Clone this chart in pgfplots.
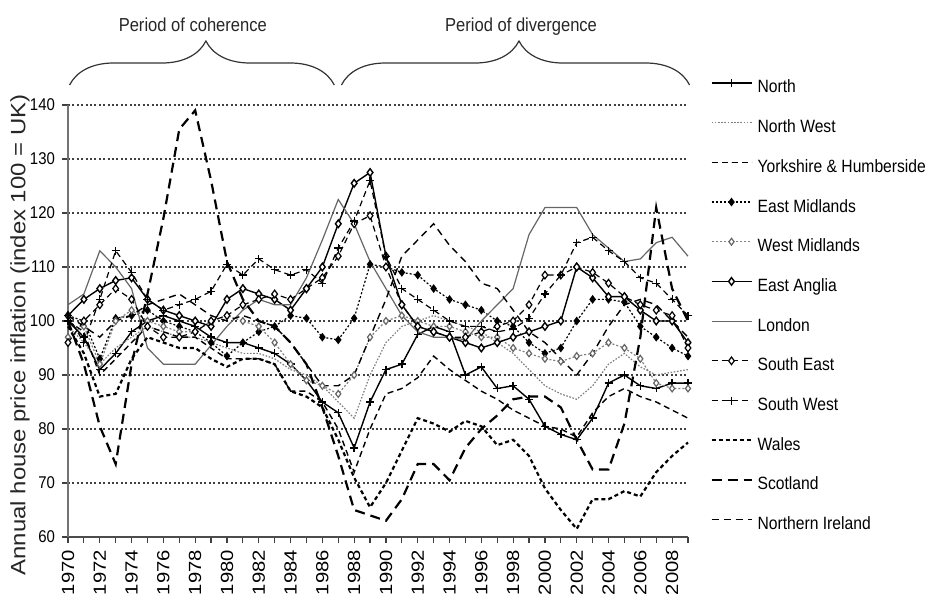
\documentclass[border=0pt]{standalone}
\usepackage{fontspec}
\setmainfont{Liberation Sans}
\newfontfamily\hfont[FakeStretch=0.88]{Liberation Sans}
\newfontfamily\vfont[FakeStretch=1.15]{Liberation Sans}
\usepackage{pgfplots}
\pgfplotsset{compat=1.18}
\usepackage{pgfplotstable}
\usetikzlibrary{decorations.pathreplacing}

\pgfplotstableread{
year N NW YH EM WM EA LON SE SW WAL SCO NI
1970 100 99 100 101 97 101 103 96 101 99 100 101
1971 97 96 98 100 99 104 105 100 96 94 92 99
1972 91 92 90 93 92 106 113 103 104 86 80.5 97
1973 94 95 93 100.5 100 107.5 110 106 113 86.5 73.5 100
1974 98 97 96 101 102 108 106 104 109 93 92 101
1975 100 99 99 102 100 104 95 99 104 97 105 103
1976 101 98 98 100 99 102 92 97 102 96 119 104
1977 100 97 97 99 98 101 92 97 103 95 135.5 105
1978 99 97 97 98 98 100 92 98 104 95 139 103
1979 97 96 95 96 100 99 95.5 100 105.5 93 126 101
1980 96 95 93 93.5 101 104 99 101 110.5 91.5 111 100
1981 96 94 93 96 100 106 102 103 108.5 93 104 101
1982 95 94 93 98 99 105 104 104 111.5 93 100 100
1983 94 93 92 99 96 104 103 105 109.5 92 99 99
1984 92 91 87 101 92 102 103 104 108.5 87 96 96
1985 89 90 87 100.5 89 106 108 106 109.5 86 92 92
1986 85 88 85 97 88 110 115 108 107 84 84 88
1987 83 85 80 96.5 86.5 118 122.5 112 113.5 78 75 88
1988 76.5 82 72 100.5 90 125.5 118 118 118.5 71 65 90
1989 85 90 80 110.5 97 127.5 111 119.5 126 65.5 64 97
1990 91 96 86.5 110 100 112 106 110 112 70 63 104
1991 92 99 87.5 109 101 103 101 103 106 76 67 112
1992 97.5 100 89.5 108.5 100 99 98 99 104 82 73.5 115
1993 99 101 93.5 106 99 98 97 98 102 81 73.5 118
1994 98 100 91 104 99 97 97 97 100 79.5 70.5 114
1995 90 99 89 103 98 96 96.5 97 99 81.5 76.5 111
1996 91.5 98 87 102 97 95 100 98 99 80.5 80 107
1997 87.5 96 85.5 100 97 96 103 99 98 77 82.5 106
1998 88 94 83.5 99 95 97 106 100 98.5 78 85.5 102
1999 85.5 91 82 96 94 98 116 103 100.5 75 86 98
2000 80.5 88 80.5 94 93 99 121 108.5 105 69 86 96
2001 79 86.5 80 95 92.5 100 121 108.5 108.5 65 84 93
2002 78 85.5 78.5 100 93.5 110 121 110 114.5 61.5 78 90
2003 82 88 83 104 94 108 116 109 115.5 67 72.5 94
2004 88.5 92 86 104 96 104.5 113.5 107 113 67 72.5 99
2005 90 94 87.5 103.5 95 104.5 111 104.5 111 68.5 81 103
2006 88 91.5 86 99 93 102 111.5 103 108 67.5 97 104
2007 87.5 90 85 97 88.5 100 114.5 102 107 72 121 103
2008 88.5 90.5 83.5 95 87.5 100 115.5 101 104 75 106 100
2009 88.5 91 82 93.5 87.5 96 112 95 101 77.5 100 97
}\data

\begin{document}
\begin{tikzpicture}
\begin{axis}[
  scale only axis, width=310pt, height=216pt,
  xmin=1970, xmax=2009, ymin=60, ymax=140,
  ytick={60,70,...,140},
  xtick={1970,1972,...,2008},
  minor xtick={1971,1973,...,2009},
  axis x line*=bottom, axis y line*=left,
  x axis line style={line width=1.3pt, draw=black!70},
  y axis line style={line width=0.6pt, draw=black!55},
  tick align=outside, major tick length=3pt, minor tick length=3pt,
  every tick/.style={black!75, line width=0.6pt},
  ymajorgrids,
  major grid style={dash pattern=on 1pt off 1.2pt, line width=0.9pt, black!75},
  /pgf/number format/assume math mode=true,
  x tick label style={font=\vfont\fontsize{8.8}{9}\selectfont, rotate=90, anchor=east, /pgf/number format/1000 sep={}},
  y tick label style={font=\hfont\fontsize{8.5}{9}\selectfont},
  ylabel={Annual house price inflation (index 100 = UK)},
  ylabel style={font=\vfont\fontsize{10.4}{11}\selectfont, at={(rel axis cs:-0.0774,0.4676)}, anchor=center, text=black!85},
  clip=false,
  legend style={at={(rel axis cs:1.0258,1.0705)}, anchor=north west, draw=none, fill=none,
    font=\hfont\fontsize{8.9}{10}\selectfont, row sep=10.85pt, column sep=2.5pt,
    nodes={inner sep=0pt, text height=7pt, text depth=2pt}},
  legend cell align=left,
  legend image code/.code={\draw[mark repeat=2,mark phase=2,#1] plot coordinates {(0pt,2.5pt) (10pt,2.5pt) (20pt,2.5pt)};},
]
\addplot[black, line width=0.7pt, mark=+, mark size=2pt, mark options={solid}] table[x=year,y=N]{\data};
\addlegendentry{North}
\addplot[black!50, line width=0.6pt, dash pattern=on 0.8pt off 0.8pt] table[x=year,y=NW]{\data};
\addlegendentry{North West}
\addplot[black, line width=0.7pt, dash pattern=on 3pt off 2pt] table[x=year,y=YH]{\data};
\addlegendentry{Yorkshire \& Humberside}
\addplot[black, line width=0.6pt, dash pattern=on 1pt off 1pt, mark=diamond*, mark size=1.7pt, mark options={solid}] table[x=year,y=EM]{\data};
\addlegendentry{East Midlands}
\addplot[black!50, line width=0.6pt, dash pattern=on 1pt off 1pt, mark=diamond*, mark size=1.7pt, mark options={solid, fill=white, draw=black!60}] table[x=year,y=WM]{\data};
\addlegendentry{West Midlands}
\addplot[black, line width=0.7pt, mark=diamond*, mark size=1.9pt, mark options={solid, fill=white}] table[x=year,y=EA]{\data};
\addlegendentry{East Anglia}
\addplot[black!60, line width=0.6pt] table[x=year,y=LON]{\data};
\addlegendentry{London}
\addplot[black, line width=0.6pt, dash pattern=on 3pt off 2pt, mark=diamond*, mark size=1.9pt, mark options={solid, fill=white}] table[x=year,y=SE]{\data};
\addlegendentry{South East}
\addplot[black, line width=0.6pt, dash pattern=on 3pt off 2pt, mark=+, mark size=2pt, mark options={solid}] table[x=year,y=SW]{\data};
\addlegendentry{South West}
\addplot[black, line width=1.1pt, dash pattern=on 2pt off 1.5pt] table[x=year,y=WAL]{\data};
\addlegendentry{Wales}
\addplot[black, line width=1.1pt, dash pattern=on 5pt off 3pt] table[x=year,y=SCO]{\data};
\addlegendentry{Scotland}
\addplot[black, line width=0.7pt, dash pattern=on 3.5pt off 2.5pt] table[x=year,y=NI]{\data};
\addlegendentry{Northern Ireland}

\draw[decorate, decoration={brace, amplitude=22pt, aspect=0.515}, line width=0.6pt, black!80] (axis cs:1970.1,143.7) -- (axis cs:1986.75,143.7);
\draw[decorate, decoration={brace, amplitude=22pt, aspect=0.51}, line width=0.6pt, black!80] (axis cs:1987.2,143.7) -- (axis cs:2009.1,143.7);
\node[anchor=base, font=\hfont\fontsize{9.4}{10}\selectfont, text=black!85] at (axis cs:1977.85,153.7) {Period of coherence};
\node[anchor=base, font=\hfont\fontsize{9.4}{10}\selectfont, text=black!85] at (axis cs:1998.5,153.7) {Period of divergence};
\coordinate (bbSW) at (rel axis cs:-0.10968,-0.15278);
\coordinate (bbNE) at (rel axis cs:1.39194,1.24306);
\end{axis}
\pgfresetboundingbox
\path[use as bounding box] (bbSW) rectangle (bbNE);
\end{tikzpicture}
\end{document}
